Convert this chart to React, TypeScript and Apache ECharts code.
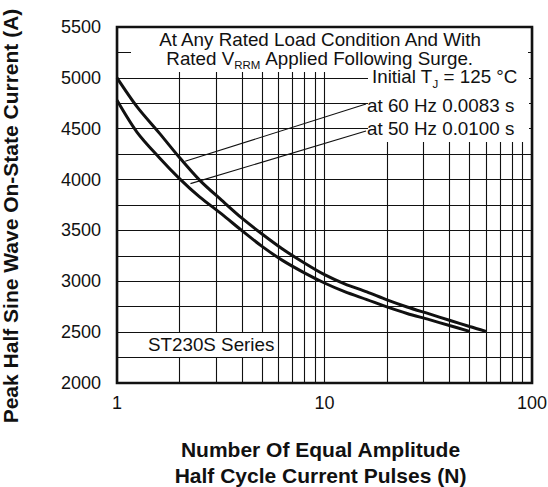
import React, { useEffect, useRef } from "react";
import * as echarts from "echarts";

// Number of pulses (x) and peak current (y)
const pulses60 = [1, 1.25, 1.6, 2, 2.5, 3.2, 4, 5, 6.3, 8, 10, 12.5, 16, 20, 25, 32, 40, 50, 60];
const current60 = [5000, 4715, 4457, 4217, 3995, 3795, 3620, 3465, 3315, 3180, 3065, 2975, 2895, 2817, 2747, 2679, 2617, 2555, 2508];

const pulses50 = [1, 1.25, 1.6, 2, 2.5, 3.2, 4, 5, 6.3, 8, 10, 12.5, 16, 20, 25, 32, 40, 50];
const current50 = [4780, 4465, 4215, 4010, 3830, 3660, 3498, 3343, 3203, 3083, 2983, 2898, 2820, 2748, 2683, 2623, 2565, 2508];

// leader lines from curves to annotations
const leader60X = [2.13, 15.85];
const leader60Y = [4180, 4743];
const leader50X = [2.26, 15.85];
const leader50Y = [3960, 4478];

// minor vertical grid lines on the log axis
const minorX = [2, 3, 4, 5, 6, 7, 8, 9, 20, 30, 40, 50, 60, 70, 80, 90];

const yTicks = [2000, 2500, 3000, 3500, 4000, 4500, 5000, 5500];

const FONT = "'Liberation Sans', Arial, Helvetica, sans-serif";
const INK = "#111";
const SX = 1.045;

const zip = (xs: number[], ys: number[]) => xs.map((x, i) => [x, ys[i]]);

export default function App() {
  const ref = useRef<HTMLDivElement>(null);
  useEffect(() => {
    if (!ref.current) return;
    const chart = echarts.init(ref.current, undefined, { renderer: "svg" });
    const L = 117, T = 27, R = 532, B = 383;
    const main = { fontSize: 18, fontFamily: FONT, fill: INK, lineHeight: 22, verticalAlign: "top" };
    const sub = (pad: number) => ({ fontSize: 11, fontFamily: FONT, fill: INK, padding: [pad, 0, 0, 0], verticalAlign: "top" });
    const plain = (text: string, x: number, y: number, align: string) => ({
      type: "text", z: 60, x, y, scaleX: SX,
      style: { text, fontSize: 18, fontFamily: FONT, fill: INK, align, verticalAlign: "middle" },
    });
    chart.setOption({
      animation: false,
      backgroundColor: "#fff",
      grid: { left: L, top: T, right: 548 - R, bottom: 487 - B, containLabel: false, outerBoundsMode: "none" },
      xAxis: {
        type: "log",
        logBase: 10,
        min: 1,
        max: 100,
        axisLine: { show: false },
        axisTick: { show: false },
        axisLabel: { fontSize: 18, fontFamily: FONT, color: INK, margin: 11 },
        splitLine: { show: true, lineStyle: { color: INK, width: 1.1 } },
        name: "Number Of Equal Amplitude\nHalf Cycle Current Pulses (N)",
        nameLocation: "middle",
        nameGap: 53,
        nameTextStyle: { fontSize: 21, fontWeight: "bold", fontFamily: FONT, color: INK, lineHeight: 26, padding: [0, 8, 0, 0] },
      },
      yAxis: {
        type: "value",
        min: 2000,
        max: 5500,
        interval: 250,
        axisLine: { show: false },
        axisTick: { show: false },
        axisLabel: {
          fontSize: 18,
          fontFamily: FONT,
          color: INK,
          margin: 16,
          formatter: (v: number) => (yTicks.includes(v) ? String(v) : ""),
        },
        splitLine: { show: true, lineStyle: { color: INK, width: 1.1 } },
        name: "Peak Half Sine Wave On-State Current (A)",
        nameLocation: "middle",
        nameGap: 96,
        nameRotate: 90,
        nameTextStyle: { fontSize: 21, fontWeight: "bold", fontFamily: FONT, color: INK, lineHeight: 22, padding: [0, 22, 0, 0] },
      },
      series: [
        {
          type: "line",
          name: "at 60 Hz 0.0083 s",
          data: zip(pulses60, current60),
          smooth: 0.3,
          symbol: "none",
          lineStyle: { color: INK, width: 3 },
          z: 5,
          markLine: {
            silent: true,
            symbol: ["none", "none"],
            label: { show: false },
            lineStyle: { color: INK, width: 1.1, type: "solid" },
            data: minorX.map((x) => ({ xAxis: x })),
            z: 1,
          },
        },
        {
          type: "line",
          name: "at 50 Hz 0.0100 s",
          data: zip(pulses50, current50),
          smooth: 0.3,
          symbol: "none",
          lineStyle: { color: INK, width: 3 },
          z: 5,
        },
        {
          type: "line",
          data: zip(leader60X, leader60Y),
          symbol: "none",
          lineStyle: { color: INK, width: 1.1 },
          z: 4,
        },
        {
          type: "line",
          data: zip(leader50X, leader50Y),
          symbol: "none",
          lineStyle: { color: INK, width: 1.1 },
          z: 4,
        },
      ],
      graphic: [
        { type: "rect", z: 50, silent: true, shape: { x: 131, y: T + 1, width: 528 - 131, height: 72 - T - 1 }, style: { fill: "#fff" } },
        { type: "rect", z: 50, silent: true, shape: { x: 368, y: 71, width: 529 - 368, height: 142 - 71 }, style: { fill: "#fff" } },
        { type: "rect", z: 50, silent: true, shape: { x: 140, y: 333, width: 136, height: 24 }, style: { fill: "#fff" } },
        { type: "rect", z: 70, silent: true, shape: { x: L, y: T, width: R - L, height: B - T }, style: { fill: "none", stroke: INK, lineWidth: 2.6 } },
        plain("At Any Rated Load Condition And With", 320, 40, "center"),
        {
          type: "text", z: 60, x: 320, y: 49.5, scaleX: SX,
          style: {
            text: "{m|Rated V}{s|RRM}{m| Applied Following Surge.}",
            align: "center", verticalAlign: "top",
            rich: { m: main, s: sub(10) },
          },
        },
        {
          type: "text", z: 60, x: 372, y: 68, scaleX: SX,
          style: {
            text: "{m|Initial T}{s|J}{m| = 125 °C}",
            align: "left", verticalAlign: "top",
            rich: { m: main, s: sub(11) },
          },
        },
        plain("at 60 Hz 0.0083 s", 367, 105.5, "left"),
        plain("at 50 Hz 0.0100 s", 367, 129, "left"),
        plain("ST230S Series", 148, 345, "left"),
      ],
    });
    return () => chart.dispose();
  }, []);
  return <div ref={ref} style={{ position: "absolute", left: 0, top: 0, width: 548, height: 487 }} />;
}
